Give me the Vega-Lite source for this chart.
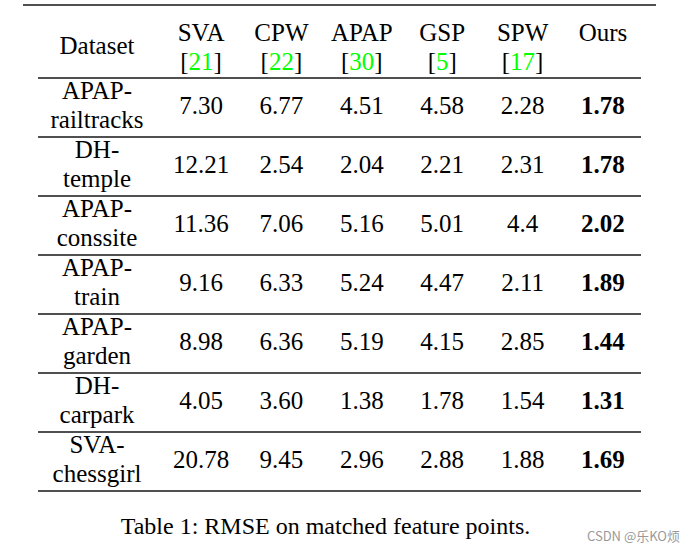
{
  "$schema": "https://vega.github.io/schema/vega-lite/v6.json",
  "width": 633,
  "height": 472,
  "autosize": {"type": "none"},
  "padding": {"left": 23, "top": 19, "right": 39, "bottom": 63},
  "background": "white",
  "config": {"view": {"stroke": null}},
  "title": {
    "text": "CSDN @乐KO烦",
    "orient": "bottom",
    "anchor": "end",
    "frame": "group",
    "font": "Noto Sans CJK SC",
    "fontSize": 13,
    "fontWeight": "normal",
    "color": "#999999",
    "baseline": "alphabetic",
    "offset": 2,
    "dx": 24
  },
  "datasets": {
    "table": [
      {"dataset": "APAP-railtracks", "SVA": "7.30", "CPW": "6.77", "APAP": "4.51", "GSP": "4.58", "SPW": "2.28", "Ours": "1.78"},
      {"dataset": "DH-temple", "SVA": "12.21", "CPW": "2.54", "APAP": "2.04", "GSP": "2.21", "SPW": "2.31", "Ours": "1.78"},
      {"dataset": "APAP-conssite", "SVA": "11.36", "CPW": "7.06", "APAP": "5.16", "GSP": "5.01", "SPW": "4.4", "Ours": "2.02"},
      {"dataset": "APAP-train", "SVA": "9.16", "CPW": "6.33", "APAP": "5.24", "GSP": "4.47", "SPW": "2.11", "Ours": "1.89"},
      {"dataset": "APAP-garden", "SVA": "8.98", "CPW": "6.36", "APAP": "5.19", "GSP": "4.15", "SPW": "2.85", "Ours": "1.44"},
      {"dataset": "DH-carpark", "SVA": "4.05", "CPW": "3.60", "APAP": "1.38", "GSP": "1.78", "SPW": "1.54", "Ours": "1.31"},
      {"dataset": "SVA-chessgirl", "SVA": "20.78", "CPW": "9.45", "APAP": "2.96", "GSP": "2.88", "SPW": "1.88", "Ours": "1.69"}
    ],
    "methods": [
      {"method": "SVA", "ref": "21"},
      {"method": "CPW", "ref": "22"},
      {"method": "APAP", "ref": "30"},
      {"method": "GSP", "ref": "5"},
      {"method": "SPW", "ref": "17"},
      {"method": "Ours"}
    ]
  },
  "encoding": {
    "x": {
      "field": "method",
      "type": "nominal",
      "scale": {"type": "band", "domain": ["SVA", "CPW", "APAP", "GSP", "SPW", "Ours"], "paddingInner": 0, "paddingOuter": 0.937, "align": 0.915},
      "axis": {
        "orient": "top",
        "offset": 14,
        "translate": 0,
        "domain": true,
        "domainWidth": 2,
        "domainColor": "#505050",
        "ticks": false,
        "labels": false,
        "grid": false,
        "title": "Table 1: RMSE on matched feature points.",
        "titleFont": "Liberation Serif",
        "titleFontSize": 24,
        "titleFontWeight": "normal",
        "titleColor": "black",
        "titleX": 302.5,
        "titleY": 529,
        "titleAlign": "center",
        "titleBaseline": "alphabetic",
        "titleAngle": 0,
        "titleLimit": 0
      }
    },
    "y": {
      "field": "dataset",
      "type": "nominal",
      "scale": {"type": "band", "domain": ["Dataset", "APAP-railtracks", "DH-temple", "APAP-conssite", "APAP-train", "APAP-garden", "DH-carpark", "SVA-chessgirl"], "paddingInner": 0, "paddingOuter": 0},
      "axis": {
        "orient": "left",
        "offset": -618,
        "translate": 0,
        "domain": false,
        "grid": false,
        "ticks": true,
        "tickSize": 603,
        "tickWidth": 2,
        "tickColor": "#505050",
        "bandPosition": 1,
        "labelPadding": -59,
        "labelAlign": "center",
        "labelBaseline": "middle",
        "labelFont": "Liberation Serif",
        "labelFontSize": 25,
        "labelColor": "black",
        "labelLineHeight": 29,
        "labelOffset": {"condition": {"test": "datum.value == 'Dataset'", "value": -2.5}, "value": -16.5},
        "labelLimit": 0,
        "labelOverlap": false,
        "labelExpr": "indexof(datum.label, '-') > 0 ? [slice(datum.label, 0, indexof(datum.label, '-') + 1), slice(datum.label, indexof(datum.label, '-') + 1)] : datum.label",
        "title": null
      }
    }
  },
  "layer": [
    {
      "data": {"name": "table"},
      "transform": [
        {"fold": ["SVA", "CPW", "APAP", "GSP", "SPW", "Ours"], "as": ["method", "rmse"]},
        {"filter": "datum.method != 'Ours'"}
      ],
      "mark": {"type": "text", "font": "Liberation Serif", "fontSize": 25, "color": "black", "baseline": "alphabetic", "align": "center", "dy": 6.5},
      "encoding": {"text": {"field": "rmse"}}
    },
    {
      "data": {"name": "table"},
      "transform": [
        {"fold": ["SVA", "CPW", "APAP", "GSP", "SPW", "Ours"], "as": ["method", "rmse"]},
        {"filter": "datum.method == 'Ours'"}
      ],
      "mark": {"type": "text", "font": "Liberation Serif", "fontSize": 25, "fontWeight": "bold", "color": "black", "baseline": "alphabetic", "align": "center", "dy": 6.5},
      "encoding": {"text": {"field": "rmse"}}
    },
    {
      "data": {"name": "methods"},
      "mark": {"type": "text", "font": "Liberation Serif", "fontSize": 25, "color": "black", "baseline": "alphabetic", "align": "center", "dy": -7.5},
      "encoding": {"y": {"datum": "Dataset", "type": "nominal"}, "text": {"field": "method"}}
    },
    {
      "data": {"name": "methods"},
      "transform": [{"filter": "isValid(datum.ref)"}],
      "mark": {"type": "text", "font": "Liberation Serif", "fontSize": 25, "color": "#00ff00", "baseline": "alphabetic", "align": "center", "dy": 21},
      "encoding": {"y": {"datum": "Dataset", "type": "nominal"}, "text": {"field": "ref"}}
    },
    {
      "data": {"name": "methods"},
      "transform": [{"filter": "isValid(datum.ref) && length(datum.ref) == 2"}, {"calculate": "'['", "as": "b"}],
      "mark": {"type": "text", "font": "Liberation Serif", "fontSize": 25, "color": "black", "baseline": "alphabetic", "align": "right", "dx": -12.5, "dy": 21},
      "encoding": {"y": {"datum": "Dataset", "type": "nominal"}, "text": {"field": "b"}}
    },
    {
      "data": {"name": "methods"},
      "transform": [{"filter": "isValid(datum.ref) && length(datum.ref) == 2"}, {"calculate": "']'", "as": "b"}],
      "mark": {"type": "text", "font": "Liberation Serif", "fontSize": 25, "color": "black", "baseline": "alphabetic", "align": "left", "dx": 12.5, "dy": 21},
      "encoding": {"y": {"datum": "Dataset", "type": "nominal"}, "text": {"field": "b"}}
    },
    {
      "data": {"name": "methods"},
      "transform": [{"filter": "isValid(datum.ref) && length(datum.ref) == 1"}, {"calculate": "'['", "as": "b"}],
      "mark": {"type": "text", "font": "Liberation Serif", "fontSize": 25, "color": "black", "baseline": "alphabetic", "align": "right", "dx": -6.25, "dy": 21},
      "encoding": {"y": {"datum": "Dataset", "type": "nominal"}, "text": {"field": "b"}}
    },
    {
      "data": {"name": "methods"},
      "transform": [{"filter": "isValid(datum.ref) && length(datum.ref) == 1"}, {"calculate": "']'", "as": "b"}],
      "mark": {"type": "text", "font": "Liberation Serif", "fontSize": 25, "color": "black", "baseline": "alphabetic", "align": "left", "dx": 6.25, "dy": 21},
      "encoding": {"y": {"datum": "Dataset", "type": "nominal"}, "text": {"field": "b"}}
    }
  ]
}
